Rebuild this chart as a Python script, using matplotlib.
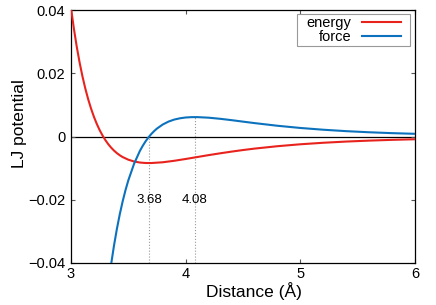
import numpy as np
import matplotlib
matplotlib.use("Agg")
import matplotlib.pyplot as plt
from matplotlib.patches import Rectangle

plt.rcParams["font.family"] = ["Liberation Sans", "DejaVu Sans"]

# energy curve
energy_r = [3.000, 3.025, 3.050, 3.075, 3.100, 3.125, 3.150, 3.175, 3.200,
            3.225, 3.250, 3.275, 3.300, 3.325, 3.350, 3.375, 3.400, 3.425,
            3.450, 3.500, 3.550, 3.600, 3.650, 3.700, 3.800, 3.900, 4.000,
            4.100, 4.200, 4.300, 4.400, 4.500, 4.600, 4.800, 5.000, 5.200,
            5.400, 5.600, 5.800, 6.000]
energy_u = [0.04064, 0.03414, 0.02842, 0.02340, 0.01900, 0.01514, 0.01176,
            0.00881, 0.00622, 0.00397, 0.00201, 0.00031, -0.00116, -0.00243,
            -0.00352, -0.00446, -0.00525, -0.00593, -0.00649, -0.00734,
            -0.00790, -0.00823, -0.00838, -0.00839, -0.00815, -0.00768,
            -0.00711, -0.00650, -0.00589, -0.00532, -0.00478, -0.00428,
            -0.00383, -0.00307, -0.00246, -0.00198, -0.00160, -0.00130,
            -0.00106, -0.00087]

# force curve
force_r = [3.300, 3.325, 3.350, 3.375, 3.400, 3.425, 3.450, 3.475, 3.500,
           3.550, 3.600, 3.625, 3.650, 3.675, 3.700, 3.725, 3.750, 3.800,
           3.850, 3.900, 3.950, 4.000, 4.050, 4.100, 4.200, 4.300, 4.400,
           4.500, 4.600, 4.800, 5.000, 5.200, 5.400, 5.600, 5.800, 6.000]
force_f = [-0.0547, -0.0471, -0.0404, -0.03448, -0.02926, -0.02465, -0.02059,
           -0.01699, -0.01385, -0.00863, -0.00461, -0.00298, -0.00155,
           -0.00030, 0.00078, 0.00171, 0.00252, 0.00379, 0.00471, 0.00535,
           0.00576, 0.00601, 0.00612, 0.00613, 0.00595, 0.00560, 0.00517,
           0.00470, 0.00424, 0.00340, 0.00270, 0.00214, 0.00169, 0.00134,
           0.00106, 0.00085]

# marked positions (energy minimum, force maximum)
mark_x = [3.68, 4.08]
mark_top = [0.0, 0.0061]
mark_labels = ["3.68", "4.08"]

W, H = 436, 305
fig = plt.figure(figsize=(W / 100, H / 100), dpi=100)
ax = fig.add_axes([71 / W, 1 - 263 / H, 344 / W, 253 / H])

ax.axhline(0, color="black", linewidth=0.9, zorder=1)
for x, top, lab in zip(mark_x, mark_top, mark_labels):
    ax.plot([x, x], [-0.04, top], color="#999999", linestyle=":", linewidth=0.8, zorder=1)
    ax.text(x, -0.02, lab, ha="center", va="center", fontsize=9.5)

ax.plot(energy_r, energy_u, color="#e8231e", linewidth=1.5, label="energy", zorder=3)
ax.plot(force_r, force_f, color="#0c72bd", linewidth=1.5, label="force", zorder=3)

ax.set_xlim(3, 6)
ax.set_ylim(-0.04, 0.04)
ax.set_xticks([3, 4, 5, 6])
ax.set_xticklabels(["3", "4", "5", "6"])
ax.set_yticks([-0.04, -0.02, 0, 0.02, 0.04])
ax.set_yticklabels(["\u22120.04", "\u22120.02", "0", "0.02", "0.04"])
ax.tick_params(direction="in", length=3, width=0.8, top=True, right=True,
               labelsize=10.5, color="#555555")
ax.tick_params(axis="x", pad=3)
ax.tick_params(axis="y", pad=4)
for sp in ax.spines.values():
    sp.set_linewidth(0.9)

ax.set_xlabel("Distance (Å)", fontsize=12.5)
ax.set_ylabel("LJ potential", fontsize=12.5)
ax.xaxis.set_label_coords(0.532, -0.075)
ax.yaxis.set_label_coords(-0.128, 0.553)

# gnuplot-like key: text right-aligned before the sample line
leg = ax.legend(loc="upper right", bbox_to_anchor=(0.959, 0.976), markerfirst=False,
                fontsize=10.5, handlelength=2.7, handletextpad=0.7,
                labelspacing=0.0, borderpad=0.0, borderaxespad=0.0,
                frameon=False)
fig.canvas.draw()
bb = leg.get_window_extent().transformed(fig.transFigure.inverted())
px, py = 9 / W, 2.0 / H
ax.add_patch(Rectangle((bb.x0 - px, bb.y0 - py), bb.width + 2 * px, bb.height + 2 * py,
                       transform=fig.transFigure, facecolor="white",
                       edgecolor="#999999", linewidth=0.8, zorder=4))
leg.set_zorder(5)

fig.savefig("out.png", dpi=100)
